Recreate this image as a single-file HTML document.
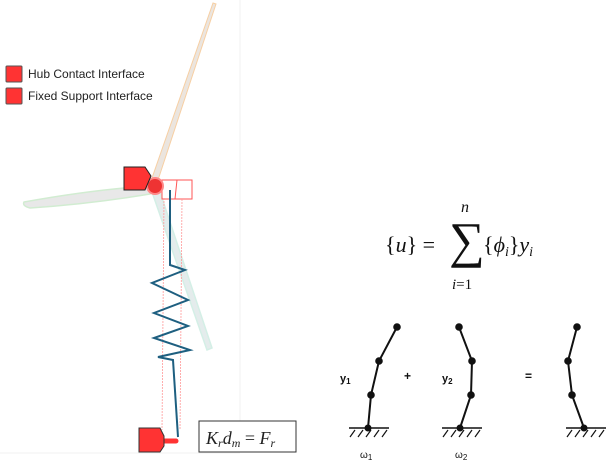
<!DOCTYPE html>
<html><head><meta charset="utf-8"><style>
body{margin:0;width:606px;height:471px;background:#fff;overflow:hidden;position:relative;font-family:"Liberation Sans",sans-serif}
</style></head><body>
<svg width="606" height="471" viewBox="0 0 606 471" style="position:absolute;left:0;top:0">
<line x1="240" y1="0" x2="240" y2="452" stroke="#f2f2f2" stroke-width="1"/>
<line x1="0" y1="453" x2="240" y2="453" stroke="#f2f2f2" stroke-width="1"/>
<!-- legend -->
<rect x="6" y="66" width="16" height="16" fill="#f33" stroke="#555" stroke-width="1" rx="1"/>
<rect x="6" y="88" width="16" height="16" fill="#f33" stroke="#555" stroke-width="1" rx="1"/>
<text x="28" y="78" font-size="12" fill="#222" font-family="Liberation Sans,sans-serif">Hub Contact Interface</text>
<text x="28" y="100" font-size="12" fill="#222" font-family="Liberation Sans,sans-serif">Fixed Support Interface</text>
<!-- blades -->
<polygon points="152,178 213,3 216,4 158,180" fill="#ebe5df" stroke="#f7cfa3" stroke-width="1"/>
<path d="M148,186 Q90,190 24,202 Q22,206 30,208 Q90,204 150,194 Z" fill="#e6e6e6" stroke="#cdeacd" stroke-width="1.5" opacity="0.9"/>
<polygon points="152,192 160,192 212,348 207,350" fill="#e4ecec" stroke="#d4efe6" stroke-width="1.5"/>
<!-- nacelle -->
<rect x="162" y="180" width="30" height="19" fill="none" stroke="#f55" stroke-width="1"/>
<line x1="177" y1="180" x2="175" y2="199" stroke="#f55" stroke-width="1"/>
<circle cx="155" cy="186" r="8" fill="#e33" stroke="#f88" stroke-width="2"/>
<line x1="164" y1="198" x2="162" y2="430" stroke="#f99" stroke-width="0.8" stroke-dasharray="2,1"/>
<line x1="182" y1="199" x2="180" y2="430" stroke="#f99" stroke-width="0.8" stroke-dasharray="2,1"/>
<!-- hub marker -->
<polygon points="124,167 145,167 151,176 145,190 124,190" fill="#f33" stroke="#222" stroke-width="1"/>
<!-- tower with spring -->
<polyline points="170,190 170,265 185,270 152,283 188,300 154,313 188,326 154,338 190,350 158,357 173,360 178,437" fill="none" stroke="#1e5f80" stroke-width="2"/>
<!-- bottom marker -->
<line x1="162" y1="441" x2="176" y2="441" stroke="#f33" stroke-width="5" stroke-linecap="round"/>
<polygon points="139,428 160,428 164,436 164,446 160,452 139,452" fill="#f33" stroke="#333" stroke-width="1"/>
<!-- formula box -->
<rect x="199" y="421" width="97" height="31" fill="#fff" stroke="#333" stroke-width="1"/>
<text x="206" y="444" font-size="18" font-style="italic" font-family="Liberation Serif,serif" fill="#222">K<tspan font-size="12" dy="3">r</tspan><tspan dy="-3">d</tspan><tspan font-size="12" dy="3">m</tspan><tspan dy="-3" font-style="normal"> = </tspan>F<tspan font-size="12" dy="3">r</tspan></text>
<!-- sum formula -->
<text x="385" y="252" font-size="22" font-family="Liberation Serif,serif" fill="#111">{<tspan font-style="italic">u</tspan>} =</text>
<text x="449" y="257" font-size="50" font-family="Liberation Serif,serif" fill="#111">∑</text>
<text x="461" y="212" font-size="16" font-style="italic" font-family="Liberation Serif,serif" fill="#111">n</text>
<text x="452" y="289" font-size="15" font-family="Liberation Serif,serif" fill="#111"><tspan font-style="italic">i</tspan>=1</text>
<text x="483" y="252" font-size="22" font-family="Liberation Serif,serif" fill="#111">{<tspan font-style="italic">ϕ</tspan><tspan font-size="14" font-style="italic" dy="4">i</tspan><tspan dy="-4">}</tspan><tspan font-style="italic">y</tspan><tspan font-size="14" font-style="italic" dy="4">i</tspan></text>
<!-- stick figures -->
<g stroke="#111" stroke-width="2" fill="#111">
<polyline points="368,428 371,395 379,361 397,327" fill="none"/>
<circle cx="368" cy="428" r="2.5"/><circle cx="371" cy="395" r="2.8"/><circle cx="379" cy="361" r="2.8"/><circle cx="397" cy="327" r="2.8"/>
<line x1="349" y1="428" x2="389" y2="428" stroke-width="1.5"/>
<path d="M355,430 l-5,7 M363,430 l-5,7 M371,430 l-5,7 M379,430 l-5,7 M387,430 l-5,7" stroke-width="1.2" fill="none"/>
<polyline points="460,428 471,395 472,361 459,327" fill="none"/>
<circle cx="460" cy="428" r="2.5"/><circle cx="471" cy="395" r="2.8"/><circle cx="472" cy="361" r="2.8"/><circle cx="459" cy="327" r="2.8"/>
<line x1="442" y1="428" x2="482" y2="428" stroke-width="1.5"/>
<path d="M448,430 l-5,7 M456,430 l-5,7 M464,430 l-5,7 M472,430 l-5,7 M480,430 l-5,7" stroke-width="1.2" fill="none"/>
<polyline points="584,428 572,395 568,361 577,327" fill="none"/>
<circle cx="584" cy="428" r="2.5"/><circle cx="572" cy="395" r="2.8"/><circle cx="568" cy="361" r="2.8"/><circle cx="577" cy="327" r="2.8"/>
<line x1="566" y1="428" x2="606" y2="428" stroke-width="1.5"/>
<path d="M572,430 l-5,7 M580,430 l-5,7 M588,430 l-5,7 M596,430 l-5,7 M604,430 l-5,7" stroke-width="1.2" fill="none"/>
</g>
<text x="340" y="382" font-size="11" font-weight="bold" fill="#111">y<tspan font-size="8" dy="2">1</tspan></text>
<text x="442" y="382" font-size="11" font-weight="bold" fill="#111">y<tspan font-size="8" dy="2">2</tspan></text>
<text x="404" y="380" font-size="12" font-weight="bold" fill="#111">+</text>
<text x="525" y="380" font-size="12" font-weight="bold" fill="#111">=</text>
<text x="360" y="458" font-size="10" fill="#111">ω<tspan font-size="8" dy="2">1</tspan></text>
<text x="455" y="458" font-size="10" fill="#111">ω<tspan font-size="8" dy="2">2</tspan></text>
</svg>
</body></html>
